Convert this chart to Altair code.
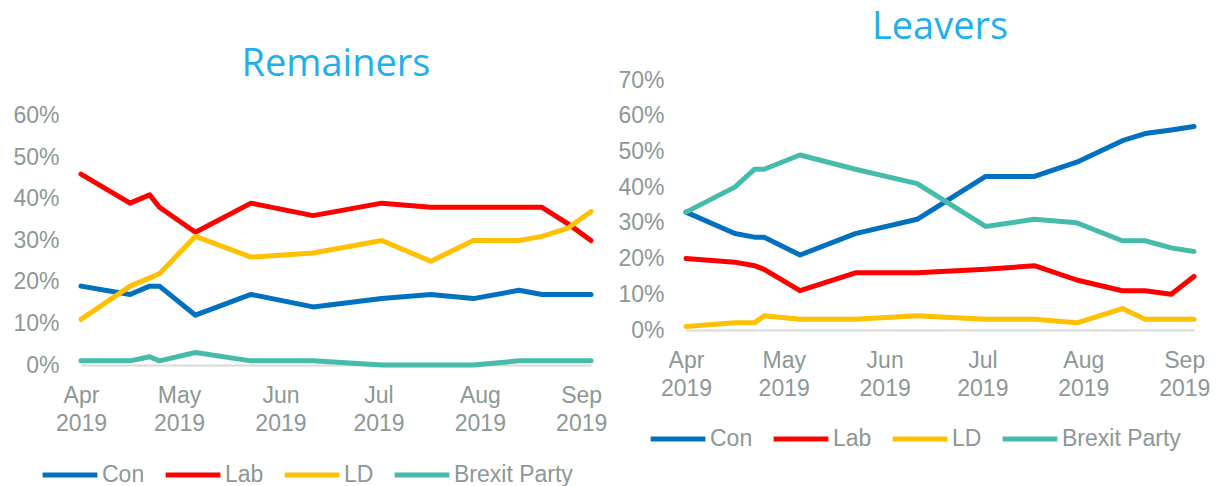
import altair as alt
import pandas as pd

dates = ["2019-04-01T00:00:00", "2019-04-16T00:00:00", "2019-04-22T00:00:00", "2019-04-25T00:00:00",
         "2019-05-06T00:00:00", "2019-05-23T00:00:00", "2019-06-11T00:00:00", "2019-07-02T00:00:00",
         "2019-07-17T00:00:00", "2019-07-30T00:00:00", "2019-08-13T00:00:00", "2019-08-20T00:00:00",
         "2019-08-28T00:00:00", "2019-09-04T00:00:00"]
parties = ["Con", "Lab", "LD", "Brexit Party"]
colors = ["#0070C0", "#FF0000", "#FFC000", "#45BBAA"]

rem_con = [19, 17, 19, 19, 12, 17, 14, 16, 17, 16, 18, 17, 17, 17]
rem_lab = [46, 39, 41, 38, 32, 39, 36, 39, 38, 38, 38, 38, 34, 30]
rem_ld = [11, 19, 21, 22, 31, 26, 27, 30, 25, 30, 30, 31, 33, 37]
rem_bxp = [1, 1, 2, 1, 3, 1, 1, 0, 0, 0, 1, 1, 1, 1]

lea_con = [33, 27, 26, 26, 21, 27, 31, 43, 43, 47, 53, 55, 56, 57]
lea_lab = [20, 19, 18, 17, 11, 16, 16, 17, 18, 14, 11, 11, 10, 15]
lea_ld = [1, 2, 2, 4, 3, 3, 4, 3, 3, 2, 6, 3, 3, 3]
lea_bxp = [33, 40, 45, 45, 49, 45, 41, 29, 31, 30, 25, 25, 23, 22]

month_ticks = [alt.DateTime(year=2019, month=m, date=1) for m in range(4, 10)]

TICK_COLOR = "#8C9895"
TITLE_COLOR = "#1DB0EC"
FONT = "Liberation Sans"


def long_df(series):
    rows = []
    for p, vals in zip(parties, series):
        for d, v in zip(dates, vals):
            rows.append({"date": d, "party": p, "value": v})
    return pd.DataFrame(rows)


def panel(series, title_text, title_offset, ymax_ticks, ymax_scale, width, height,
          legend_x, legend_y):
    df = long_df(series)
    x = alt.X(
        "date:T",
        scale=alt.Scale(domain=[alt.DateTime(year=2019, month=4, date=1),
                                alt.DateTime(year=2019, month=9, date=4)]),
        axis=alt.Axis(values=month_ticks, title=None, grid=False, ticks=False,
                      domain=True, domainColor="#D9D9D9", domainWidth=2,
                      labelExpr="[timeFormat(datum.value, '%b'), timeFormat(datum.value, '%Y')]",
                      labelPadding=19, labelFontSize=23, labelColor=TICK_COLOR, labelFont=FONT,
                      labelLineHeight=28, labelAlign="center", labelOverlap=False, labelFlush=False),
    )
    y = alt.Y(
        "value:Q",
        scale=alt.Scale(domain=[0, ymax_scale], nice=False, zero=True),
        axis=alt.Axis(values=list(range(0, ymax_ticks + 1, 10)), labelExpr="datum.value + '%'",
                      title=None, grid=False, ticks=False, domain=False, labelPadding=22,
                      labelOverlap=False, labelFlush=False,
                      labelFontSize=23, labelColor=TICK_COLOR, labelFont=FONT),
    )
    color = alt.Color(
        "party:N",
        scale=alt.Scale(domain=parties, range=colors),
        legend=alt.Legend(orient="none", legendX=legend_x, legendY=legend_y, direction="horizontal",
                          title=None, symbolType="stroke", symbolSize=3000, symbolStrokeWidth=5,
                          labelFontSize=23, labelColor=TICK_COLOR, labelFont=FONT,
                          columnPadding=10, labelOffset=2),
    )
    return alt.Chart(df).mark_line(strokeWidth=5, strokeJoin="round", strokeCap="round").encode(
        x=x, y=y, color=color, order="date:T"
    ).properties(
        width=width, height=height,
        title=alt.Title(title_text, fontSize=38, font="Open Sans", fontWeight="normal",
                        color=TITLE_COLOR, anchor="middle", offset=title_offset),
    )


left = panel([rem_con, rem_lab, rem_ld, rem_bxp], "Remainers", -4, 60, 68.67, 510, 285, -41, 365)
right = panel([lea_con, lea_lab, lea_ld, lea_bxp], "Leavers", 22, 70, 70, 508, 250, -38, 329)

chart = alt.hconcat(left, right, spacing=10).resolve_legend(color="independent").properties(
    padding={"left": 4, "top": 1, "right": 0, "bottom": 0}
).configure_view(stroke=None)

chart.save("out.html", embed_options={"renderer": "svg", "actions": False})
